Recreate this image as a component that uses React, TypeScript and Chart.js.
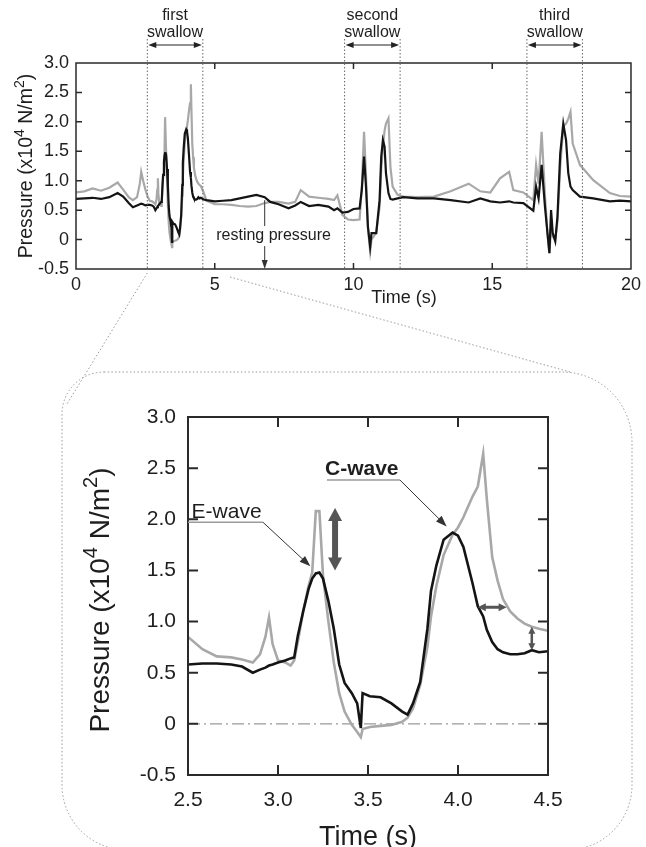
import React, { useEffect, useRef } from 'react';
import { Chart, registerables } from 'chart.js';

Chart.register(...registerables);

const FONT = '"Liberation Sans", Arial, Helvetica, sans-serif';
const BLACK = '#141414';
const GRAY = '#a8a8a8';
const TEXT = '#1e1e1e';

// ---------- overview trace (0–20 s), outside the zoomed window ----------
const overviewTime = [
  0, 0.3, 0.6, 0.9, 1.2, 1.5, 1.7, 1.9, 2.05, 2.2, 2.3, 2.35, 2.42,
  4.6, 4.7, 5.0, 5.3, 5.6, 5.9, 6.2, 6.5, 6.8, 7.0, 7.3, 7.66, 7.9, 8.1, 8.4, 8.73, 9.1, 9.3, 9.42, 9.6, 9.8,
  10.0, 10.22, 10.3, 10.38, 10.45, 10.52, 10.6, 10.65, 10.82, 10.94, 11.0, 11.06, 11.12, 11.17, 11.26, 11.33,
  11.41, 11.59, 11.8, 12.3, 12.9, 13.5, 14.15, 14.57, 14.93, 15.28, 15.61, 15.76, 16.12, 16.48, 16.58, 16.67,
  16.78, 16.9, 16.99, 17.06, 17.12, 17.18, 17.27, 17.35, 17.45, 17.56, 17.66, 17.74, 17.82, 17.9, 18.16,
  18.64, 19.24, 19.6, 20.0,
];
const overviewBlack = [
  0.69, 0.7, 0.71, 0.69, 0.72, 0.79, 0.73, 0.62, 0.55, 0.58, 0.6, 0.61, 0.6,
  0.68, 0.67, 0.65, 0.66, 0.67, 0.7, 0.73, 0.76, 0.72, 0.64, 0.6, 0.53, 0.58, 0.64, 0.57, 0.59, 0.56, 0.5, 0.53, 0.46, 0.47,
  0.52, 0.53, 0.85, 1.41, 0.9, 0.22, -0.12, 0.11, 0.11, 0.67, 1.41, 1.69, 1.58, 1.13, 0.79, 0.69,
  0.68, 0.7, 0.72, 0.7, 0.7, 0.67, 0.63, 0.7, 0.65, 0.63, 0.65, 0.63, 0.62, 0.49, 0.9, 0.7,
  1.27, 0.56, 0.11, -0.23, 0.5, 0.11, -0.03, 0.39, 1.46, 1.97, 1.69, 1.13, 0.9, 0.84, 0.73,
  0.7, 0.65, 0.66, 0.65,
];
const overviewGray = [
  0.8, 0.82, 0.87, 0.83, 0.88, 0.97, 0.85, 0.72, 0.67, 0.72, 0.95, 1.15, 1.0,
  0.8, 0.66, 0.6, 0.6, 0.59, 0.57, 0.56, 0.57, 0.62, 0.64, 0.64, 0.61, 0.64, 0.84, 0.73, 0.71, 0.69, 0.67, 0.75, 0.42, 0.34,
  0.33, 0.34, 0.9, 1.83, 1.1, 0.2, -0.2, 0.0, 0.12, 0.55, 1.2, 1.58, 1.85, 1.97, 2.06, 1.24,
  0.9, 0.76, 0.73, 0.72, 0.73, 0.82, 0.95, 0.82, 0.8, 1.04, 1.15, 0.84, 0.8, 0.67, 1.27, 0.95,
  1.83, 0.75, 0.1, -0.23, 0.2, 0.05, 0.0, 0.3, 1.24, 1.92, 1.97, 2.05, 2.17, 1.63, 1.27,
  1.01, 0.79, 0.74, 0.73,
];

// ---------- zoomed window (2.5–4.5 s, first swallow) ----------
const zoomTime = [
  2.5, 2.58, 2.66, 2.74, 2.8, 2.86, 2.9, 2.93, 2.95, 2.97, 3.0, 3.04, 3.07, 3.09, 3.11, 3.14, 3.17, 3.19,
  3.21, 3.23, 3.25, 3.28, 3.31, 3.34, 3.37, 3.41, 3.44, 3.46, 3.47, 3.51, 3.57, 3.63, 3.69, 3.72, 3.75,
  3.79, 3.83, 3.85, 3.88, 3.92, 3.97, 4.0, 4.03, 4.08, 4.11, 4.14, 4.16, 4.19, 4.22, 4.25, 4.29, 4.33,
  4.37, 4.41, 4.45, 4.5,
];
const zoomBlack = [
  0.58, 0.59, 0.59, 0.58, 0.56, 0.5, 0.53, 0.55, 0.57, 0.58, 0.6, 0.62, 0.64, 0.65, 0.86, 1.1, 1.32, 1.42,
  1.47, 1.48, 1.42, 1.2, 0.93, 0.58, 0.4, 0.3, 0.2, -0.04, 0.3, 0.27, 0.26, 0.2, 0.12, 0.09, 0.2,
  0.41, 0.93, 1.3, 1.55, 1.8, 1.87, 1.84, 1.73, 1.38, 1.15, 1.05, 0.92, 0.8, 0.73, 0.7, 0.68, 0.68,
  0.69, 0.72, 0.7, 0.71,
];
const zoomGray = [
  0.85, 0.73, 0.66, 0.65, 0.63, 0.6, 0.68, 0.85, 1.04, 0.78, 0.62, 0.6, 0.57, 0.62, 0.8, 1.1, 1.35, 1.48,
  2.08, 2.08, 1.45, 1.0, 0.6, 0.3, 0.12, -0.01, -0.08, -0.13, -0.05, -0.03, -0.02, -0.01, 0.02, 0.06, 0.15,
  0.38, 0.75, 1.05, 1.35, 1.65, 1.85, 1.92, 2.02, 2.22, 2.32, 2.64, 2.2, 1.63, 1.4, 1.22, 1.1, 1.03,
  0.98, 0.95, 0.93, 0.91,
];

// ---------- ticks ----------
const topXTicks = [0, 5, 10, 15, 20];
const topXTickLabels = ['0', '5', '10', '15', '20'];
const yTicks = [-0.5, 0, 0.5, 1, 1.5, 2, 2.5, 3];
const yTickLabels = ['-0.5', '0', '0.5', '1.0', '1.5', '2.0', '2.5', '3.0'];
const zoomXTicks = [2.5, 3, 3.5, 4, 4.5];
const zoomXTickLabels = ['2.5', '3.0', '3.5', '4.0', '4.5'];

// ---------- swallow windows ----------
const swallowNames = ['first', 'second', 'third'];
const swallowStart = [2.57, 9.68, 16.25];
const swallowEnd = [4.57, 11.68, 18.25];

// y title pieces: [text, superscript?]
const Y_TITLE: [string, boolean][] = [['Pressure (x10', false], ['4', true], [' N/m', false], ['2', true], [')', false]];

function pts(time: number[], vals: number[]) {
  return time.map((t, i) => ({ x: t, y: vals[i] }));
}
function overviewSeries(ov: number[], zv: number[]) {
  const out: { x: number; y: number }[] = [];
  overviewTime.forEach((t, i) => { if (t < 2.5) out.push({ x: t, y: ov[i] }); });
  zoomTime.forEach((t, i) => out.push({ x: t, y: zv[i] }));
  overviewTime.forEach((t, i) => { if (t > 4.5) out.push({ x: t, y: ov[i] }); });
  return out;
}

function arrowHead(ctx: CanvasRenderingContext2D, x: number, y: number, ang: number, len: number, wid: number) {
  const c = Math.cos(ang), s = Math.sin(ang);
  ctx.beginPath();
  ctx.moveTo(x, y);
  ctx.lineTo(x - len * c + wid * s, y - len * s - wid * c);
  ctx.lineTo(x - len * c - wid * s, y - len * s + wid * c);
  ctx.closePath();
  ctx.fill();
}
function doubleArrow(ctx: CanvasRenderingContext2D, x1: number, y1: number, x2: number, y2: number, lw: number, len: number, wid: number, color: string) {
  const ang = Math.atan2(y2 - y1, x2 - x1);
  const c = Math.cos(ang), s = Math.sin(ang);
  ctx.save();
  ctx.setLineDash([]);
  ctx.strokeStyle = color;
  ctx.fillStyle = color;
  ctx.lineWidth = lw;
  ctx.beginPath();
  ctx.moveTo(x1 + len * 0.7 * c, y1 + len * 0.7 * s);
  ctx.lineTo(x2 - len * 0.7 * c, y2 - len * 0.7 * s);
  ctx.stroke();
  arrowHead(ctx, x2, y2, ang, len, wid);
  arrowHead(ctx, x1, y1, ang + Math.PI, len, wid);
  ctx.restore();
}
function arrowLine(ctx: CanvasRenderingContext2D, x1: number, y1: number, x2: number, y2: number, lw: number, len: number, wid: number, color: string) {
  const ang = Math.atan2(y2 - y1, x2 - x1);
  ctx.save();
  ctx.setLineDash([]);
  ctx.strokeStyle = color;
  ctx.fillStyle = color;
  ctx.lineWidth = lw;
  ctx.beginPath();
  ctx.moveTo(x1, y1);
  ctx.lineTo(x2 - len * 0.6 * Math.cos(ang), y2 - len * 0.6 * Math.sin(ang));
  ctx.stroke();
  arrowHead(ctx, x2, y2, ang, len, wid);
  ctx.restore();
}

function frameAndTicks(chart: any, xVals: number[], tick: number, lw: number) {
  const { ctx, chartArea: a, scales } = chart;
  ctx.save();
  ctx.setLineDash([]);
  ctx.strokeStyle = '#2a2a2a';
  ctx.lineWidth = lw;
  ctx.strokeRect(a.left, a.top, a.right - a.left, a.bottom - a.top);
  ctx.beginPath();
  xVals.slice(1, -1).forEach((v) => {
    const px = scales.x.getPixelForValue(v);
    ctx.moveTo(px, a.top); ctx.lineTo(px, a.top + tick);
    ctx.moveTo(px, a.bottom); ctx.lineTo(px, a.bottom - tick);
  });
  yTicks.slice(1, -1).forEach((v) => {
    const py = scales.y.getPixelForValue(v);
    ctx.moveTo(a.left, py); ctx.lineTo(a.left + tick, py);
    ctx.moveTo(a.right, py); ctx.lineTo(a.right - tick, py);
  });
  ctx.stroke();
  ctx.restore();
}

function drawText(ctx: CanvasRenderingContext2D, text: string, x: number, y: number, size: number, align: CanvasTextAlign, baseline: CanvasTextBaseline, bold = false) {
  ctx.save();
  ctx.fillStyle = TEXT;
  ctx.font = `${bold ? 'bold ' : ''}${size}px ${FONT}`;
  ctx.textAlign = align;
  ctx.textBaseline = baseline;
  ctx.fillText(text, x, y);
  ctx.restore();
}

// rotated title with real superscripts, centred at (cx, cy)
function drawYTitle(ctx: CanvasRenderingContext2D, cx: number, cy: number, size: number) {
  const sup = size * 0.72;
  ctx.save();
  ctx.fillStyle = TEXT;
  ctx.textBaseline = 'alphabetic';
  ctx.textAlign = 'left';
  let total = 0;
  const widths = Y_TITLE.map(([t, s]) => {
    ctx.font = `${s ? sup : size}px ${FONT}`;
    const w = ctx.measureText(t).width;
    total += w;
    return w;
  });
  ctx.translate(cx, cy);
  ctx.rotate(-Math.PI / 2);
  let x = -total / 2;
  const base = size * 0.36;
  Y_TITLE.forEach(([t, s], i) => {
    ctx.font = `${s ? sup : size}px ${FONT}`;
    ctx.fillText(t, x, s ? base - size * 0.42 : base);
    x += widths[i];
  });
  ctx.restore();
}

const topDecor = {
  id: 'topDecor',
  afterDatasetsDraw(chart: any) {
    const { ctx, chartArea: a, scales } = chart;
    frameAndTicks(chart, topXTicks, 6, 1.5);
    ctx.save();
    // swallow windows
    swallowNames.forEach((name, i) => {
      const xs = scales.x.getPixelForValue(swallowStart[i]);
      const xe = scales.x.getPixelForValue(swallowEnd[i]);
      ctx.strokeStyle = '#666';
      ctx.lineWidth = 1;
      ctx.setLineDash([1.5, 2]);
      ctx.beginPath();
      ctx.moveTo(xs, 39); ctx.lineTo(xs, a.bottom);
      ctx.moveTo(xe, 39); ctx.lineTo(xe, a.bottom);
      ctx.stroke();
      const mid = (xs + xe) / 2;
      drawText(ctx, name, mid, 16, 16, 'center', 'middle');
      drawText(ctx, 'swallow', mid, 33, 16, 'center', 'middle');
      doubleArrow(ctx, xs + 1, 45, xe - 1, 45, 1.2, 8, 3, '#222');
    });
    // resting pressure
    const rx = scales.x.getPixelForValue(6.8);
    const ry = scales.y.getPixelForValue(0.67);
    arrowLine(ctx, rx, ry, rx, a.bottom, 1, 9, 3, '#333');
    const tx = scales.x.getPixelForValue(7.12);
    const ty = scales.y.getPixelForValue(0.06);
    ctx.font = `16px ${FONT}`;
    const w = ctx.measureText('resting pressure').width;
    ctx.fillStyle = '#fff';
    ctx.fillRect(tx - w / 2 - 2, ty - 10, w + 4, 20);
    drawText(ctx, 'resting pressure', tx, ty, 16, 'center', 'middle');
    // axis titles
    drawText(ctx, 'Time (s)', 404, 303, 18, 'center', 'alphabetic');
    drawYTitle(ctx, 25, (a.top + a.bottom) / 2, 19.5);
    ctx.restore();
  },
};

function makeBotDecor(getTop: () => any) {
  return {
    id: 'botDecor',
    beforeDraw(chart: any) {
      const { ctx } = chart;
      const top = getTop();
      ctx.save();
      ctx.strokeStyle = '#9a9a9a';
      ctx.lineWidth = 1;
      ctx.setLineDash([1.5, 2.2]);
      ctx.beginPath();
      (ctx as any).roundRect(62, 372, 570, 478, [42, 70, 65, 65]);
      ctx.stroke();
      if (top) {
        const ta = top.chartArea;
        const lx = top.scales.x.getPixelForValue(swallowStart[0]);
        const rx = top.scales.x.getPixelForValue(5.55);
        ctx.beginPath();
        ctx.moveTo(lx, ta.bottom + 4);
        ctx.lineTo(67, 404);
        ctx.moveTo(rx, ta.bottom + 8);
        ctx.lineTo(570, 372);
        ctx.stroke();
      }
      ctx.restore();
    },
    beforeDatasetsDraw(chart: any) {
      const { ctx, chartArea: a, scales } = chart;
      const y0 = scales.y.getPixelForValue(0);
      ctx.save();
      ctx.strokeStyle = '#999';
      ctx.lineWidth = 1.2;
      ctx.setLineDash([12, 4, 2, 4]);
      ctx.beginPath();
      ctx.moveTo(a.left, y0);
      ctx.lineTo(a.right, y0);
      ctx.stroke();
      ctx.restore();
    },
    afterDatasetsDraw(chart: any) {
      const { ctx, scales } = chart;
      const X = (v: number) => scales.x.getPixelForValue(v);
      const Y = (v: number) => scales.y.getPixelForValue(v);
      frameAndTicks(chart, zoomXTicks, 10, 2);
      ctx.save();
      // E-wave
      drawText(ctx, 'E-wave', X(2.52), Y(2.07), 21, 'left', 'middle');
      ctx.strokeStyle = '#9a9a9a';
      ctx.lineWidth = 1.5;
      ctx.beginPath();
      ctx.moveTo(X(2.5), Y(1.97));
      ctx.lineTo(X(2.917), Y(1.97));
      ctx.stroke();
      arrowLine(ctx, X(2.917), Y(1.97), X(3.18), Y(1.54), 1, 11, 4, '#333');
      // C-wave
      drawText(ctx, 'C-wave', X(3.261), Y(2.49), 21, 'left', 'middle', true);
      ctx.strokeStyle = '#9a9a9a';
      ctx.lineWidth = 1.5;
      ctx.beginPath();
      ctx.moveTo(X(3.272), Y(2.383));
      ctx.lineTo(X(3.678), Y(2.383));
      ctx.stroke();
      arrowLine(ctx, X(3.678), Y(2.383), X(3.937), Y(1.93), 1, 11, 4, '#333');
      // difference arrows
      doubleArrow(ctx, X(3.317), Y(2.11), X(3.317), Y(1.5), 6, 13, 7, '#555');
      doubleArrow(ctx, X(4.11), Y(1.14), X(4.27), Y(1.14), 3, 8, 4, '#555');
      doubleArrow(ctx, X(4.41), Y(0.95), X(4.41), Y(0.72), 2.5, 7, 3.5, '#555');
      // titles
      const a = chart.chartArea;
      drawText(ctx, 'Time (s)', (a.left + a.right) / 2, 845, 27, 'center', 'alphabetic');
      drawYTitle(ctx, 99, (a.top + a.bottom) / 2 + 4, 28);
      ctx.restore();
    },
  };
}

function yScale(size: number, pad: number, width: number) {
  return {
    type: 'linear',
    min: -0.5,
    max: 3,
    afterBuildTicks: (s: any) => { s.ticks = yTicks.map((v) => ({ value: v })); },
    ticks: {
      callback: (v: any) => yTickLabels[yTicks.indexOf(Number(v))],
      font: { family: FONT, size },
      color: TEXT,
      padding: pad,
    },
    grid: { display: false, drawTicks: false },
    border: { display: false },
    afterFit: (s: any) => { s.width = width; },
  };
}
function xScale(vals: number[], labels: string[], size: number, pad: number, height: number) {
  return {
    type: 'linear',
    min: vals[0],
    max: vals[vals.length - 1],
    afterBuildTicks: (s: any) => { s.ticks = vals.map((v) => ({ value: v })); },
    ticks: {
      callback: (v: any) => labels[vals.indexOf(Number(v))],
      font: { family: FONT, size },
      color: TEXT,
      padding: pad,
      maxRotation: 0,
      autoSkip: false,
    },
    grid: { display: false, drawTicks: false },
    border: { display: false },
    afterFit: (s: any) => { s.height = height; },
  };
}

export default function App() {
  const topRef = useRef<HTMLCanvasElement>(null);
  const botRef = useRef<HTMLCanvasElement>(null);

  useEffect(() => {
    const common = {
      animation: false,
      responsive: false,
      devicePixelRatio: 1,
      plugins: { legend: { display: false }, tooltip: { enabled: false } },
      elements: { point: { radius: 0 }, line: { tension: 0 } },
    };
    const topChart = new Chart(topRef.current!, {
      type: 'line',
      data: {
        datasets: [
          { data: overviewSeries(overviewBlack, zoomBlack), borderColor: BLACK, borderWidth: 2.2, pointRadius: 0 },
          { data: overviewSeries(overviewGray, zoomGray), borderColor: GRAY, borderWidth: 2.2, pointRadius: 0 },
        ],
      },
      options: {
        ...common,
        layout: { padding: { left: 11, top: 63, right: 11, bottom: 0 } },
        scales: {
          x: xScale(topXTicks, topXTickLabels, 18, 5, 41),
          y: yScale(18, 7, 65),
        },
      } as any,
      plugins: [topDecor],
    });
    const botChart = new Chart(botRef.current!, {
      type: 'line',
      data: {
        datasets: [
          { data: pts(zoomTime, zoomBlack), borderColor: BLACK, borderWidth: 2.6, pointRadius: 0 },
          { data: pts(zoomTime, zoomGray), borderColor: GRAY, borderWidth: 2.6, pointRadius: 0 },
        ],
      },
      options: {
        ...common,
        layout: { padding: { left: 76, top: 417, right: 98, bottom: 0 } },
        scales: {
          x: xScale(zoomXTicks, zoomXTickLabels, 21, 13, 72),
          y: yScale(21, 12, 112),
        },
      } as any,
      plugins: [makeBotDecor(() => topChart)],
    });
    return () => {
      botChart.destroy();
      topChart.destroy();
    };
  }, []);

  return (
    <div style={{ position: 'fixed', left: 0, top: 0, width: 646, height: 847, background: '#fff', overflow: 'hidden' }}>
      <canvas ref={botRef} width={646} height={847} style={{ position: 'absolute', left: 0, top: 0, width: 646, height: 847 }} />
      <canvas ref={topRef} width={646} height={310} style={{ position: 'absolute', left: 0, top: 0, width: 646, height: 310 }} />
    </div>
  );
}
